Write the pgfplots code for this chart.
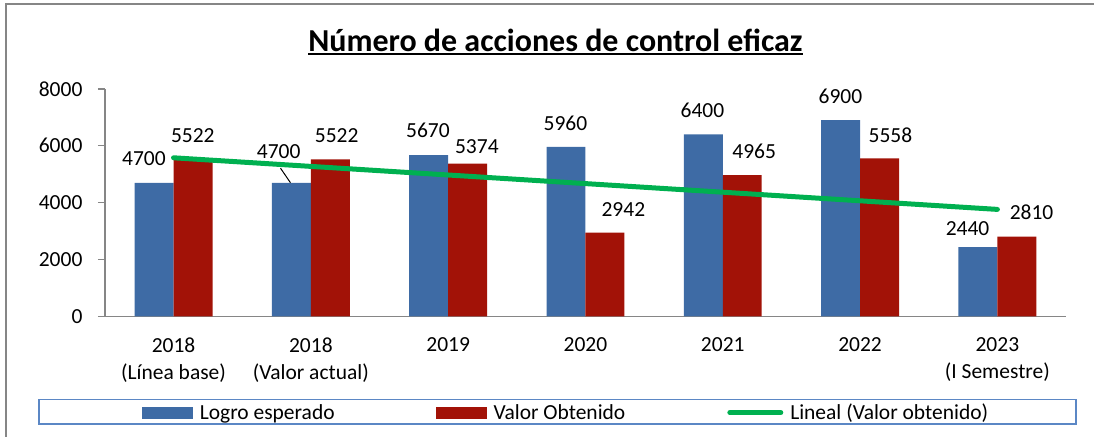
\documentclass[border=0pt]{standalone}
\usepackage{pgfplots}
\pgfplotsset{compat=1.18}
\usepackage{fontspec}
\setmainfont{Carlito}
\definecolor{barblue}{HTML}{3E6BA5}
\definecolor{barred}{HTML}{A21207}
\definecolor{trendgreen}{HTML}{00B050}
\definecolor{axgray}{HTML}{868686}
\definecolor{legblue}{HTML}{5B87C5}
\newcommand{\lblfont}{\fontsize{21.5}{26.7}\selectfont}
\begin{document}
\begin{tikzpicture}
\begin{axis}[
  name=ax,
  at={(0pt,0pt)}, anchor=south west,
  scale only axis,
  width=962pt, height=227.7pt,
  xmin=-0.5, xmax=6.5, ymin=0, ymax=8000,
  axis x line*=bottom, axis y line*=left,
  axis line style={axgray, line width=1.2pt},
  every tick/.style={axgray, line width=1.2pt},
  tick align=outside,
  major tick length=7pt, minor tick length=7pt,
  ytick={0,2000,4000,6000,8000},
  xtick={0,1,2,3,4,5,6},
  xtick style={draw=none},
  minor xtick={-0.5,0.5,1.5,2.5,3.5,4.5,5.5,6.5},
  xticklabels={{2018\\(Línea base)},{2018\\(Valor actual)},{2019},{2020},{2021},{2022},{2023\\(I Semestre)}},
  xticklabel style={align=center, font=\lblfont, text=black, yshift=-11pt},
  yticklabel style={font=\lblfont, text=black, xshift=-12pt},
  /pgf/number format/assume math mode=true,
  /pgf/number format/1000 sep={},
  legend columns=3,
  legend style={draw=none, fill=none, inner sep=0pt, outer sep=0pt,
    at={(axis description cs:0.03846,-0.4229)}, anchor=west,
    font=\lblfont,
    nodes={inner sep=0pt, anchor=west},
    /tikz/every odd column/.append style={column sep=7pt},
    /tikz/every even column/.append style={column sep=0pt}},
]
\addplot[ybar, bar width=39pt, bar shift=-19.5pt, fill=barblue, draw=none,
  legend image code/.code={\fill[barblue] (0pt,-6pt) rectangle (51pt,6pt);}]
  coordinates {(0,4700) (1,4700) (2,5670) (3,5960) (4,6400) (5,6900) (6,2440)};
\addlegendentry{\makebox[236pt][l]{Logro esperado}}
\addplot[ybar, bar width=39pt, bar shift=19.5pt, fill=barred, draw=none,
  legend image code/.code={\fill[barred] (0pt,-6pt) rectangle (51pt,6pt);}]
  coordinates {(0,5522) (1,5522) (2,5374) (3,2942) (4,4965) (5,5558) (6,2810)};
\addlegendentry{\makebox[234pt][l]{Valor Obtenido}}
\addplot[sharp plot, trendgreen, line width=5pt, line cap=round, mark=none,
  legend image code/.code={\draw[trendgreen, line width=5pt, line cap=round] (2pt,0pt) -- (53pt,0pt);}]
  coordinates {(0,5578) (6,3763)};
\addlegendentry{Lineal (Valor obtenido)}
% data labels
\draw[black, line width=1pt] (axis cs:0.7788,5214) -- (axis cs:0.8515,4700);
\node[font=\lblfont] at (axis cs:-0.216,5541) {4700};
\node[font=\lblfont] at (axis cs:0.1405,6356) {5522};
\node[font=\lblfont] at (axis cs:0.766,5797) {4700};
\node[font=\lblfont] at (axis cs:1.1885,6349) {5522};
\node[font=\lblfont] at (axis cs:1.853,6535) {5670};
\node[font=\lblfont] at (axis cs:2.209,5973) {5374};
\node[font=\lblfont] at (axis cs:2.854,6795) {5960};
\node[font=\lblfont] at (axis cs:3.276,3759) {2942};
\node[font=\lblfont] at (axis cs:3.852,7234) {6400};
\node[font=\lblfont] at (axis cs:4.229,5811) {4965};
\node[font=\lblfont] at (axis cs:4.857,7729) {6900};
\node[font=\lblfont] at (axis cs:5.221,6384) {5558};
\node[font=\lblfont] at (axis cs:5.783,3071) {2440};
\node[font=\lblfont] at (axis cs:6.249,3661) {2810};
\end{axis}
\begin{scope}[shift={(ax.south west)}]
  \path (-105pt,-120.3pt) rectangle (990pt,316.7pt);
  % outer chart border (top and left visible)
  \draw[axgray, line width=2pt] (-99pt,-120.3pt) -- (-99pt,312.7pt) -- (990pt,312.7pt);
  % legend box
  \draw[legblue, line width=1.6pt] (-65.7pt,-83.3pt) rectangle (971.7pt,-107.6pt);
  % title
  \node[anchor=base, inner sep=0pt, font=\fontsize{32}{36}\selectfont\bfseries] (t) at (451pt,265pt) {Número de acciones de control eficaz};
  \draw[black, line width=1.5pt] ([yshift=-2.2pt]t.base west) -- ([yshift=-2.2pt]t.base east);
\end{scope}
\end{tikzpicture}
\end{document}
